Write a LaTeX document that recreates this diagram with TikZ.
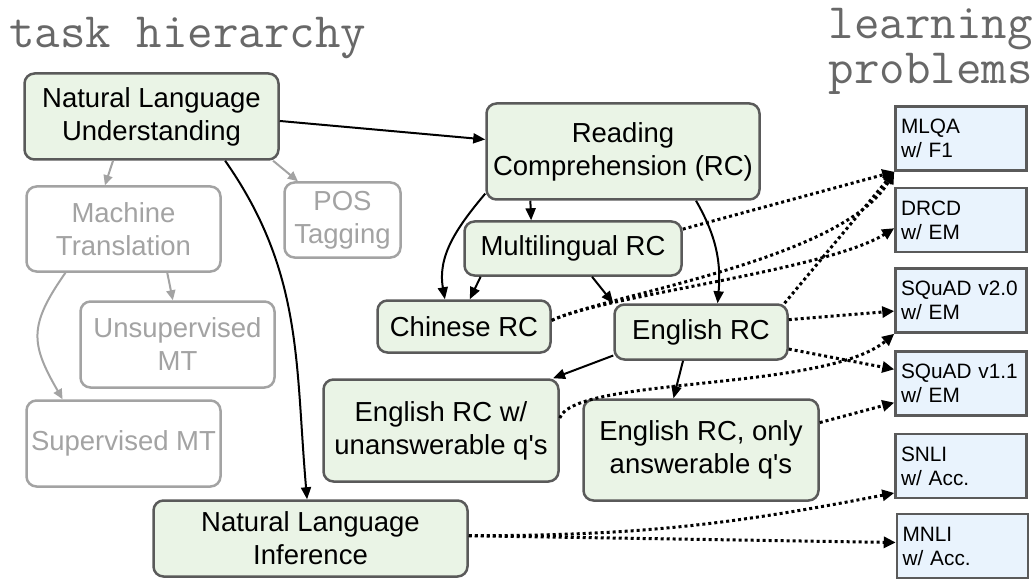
\documentclass[tikz,border=0pt]{standalone}
\usepackage{fontspec}
\setmainfont{Liberation Sans}
\usetikzlibrary{arrows.meta}
\definecolor{taskfill}{HTML}{EAF4E6}
\definecolor{probfill}{HTML}{E9F3FD}
\definecolor{edgegray}{HTML}{5A5A5A}
\definecolor{fadegray}{HTML}{A3A3A3}
\definecolor{titlegray}{HTML}{686868}
\tikzset{
  task/.style={draw=edgegray, line width=2.5pt, rounded corners=10pt, fill=taskfill, align=center, inner sep=4pt, font=\fontsize{27.5}{33}\selectfont},
  faded/.style={draw=fadegray, line width=2.5pt, rounded corners=10pt, fill=white, text=fadegray, align=center, inner sep=4pt, font=\fontsize{27.5}{33}\selectfont},
  prob/.style={draw=edgegray, line width=2.5pt, fill=probfill, align=left, text width=120pt, inner xsep=5.5pt, minimum height=64pt, font=\fontsize{20.8}{24}\selectfont},
  ttl/.style={text=titlegray, inner sep=0pt, font=\ttfamily\addfontfeatures{FakeBold=1.2}\fontsize{49.5}{43}\selectfont},
  flow/.style={-{Triangle[length=12pt,width=10pt]}, line width=2pt},
  sub/.style={-{Triangle[length=10pt,width=9pt]}, line width=2pt, draw=fadegray},
  link/.style={-{Triangle[length=12pt,width=11pt]}, line width=3pt, dash pattern=on 3pt off 3pt},
}

\begin{document}
\begin{tikzpicture}[x=1pt, y=-1pt]
\useasboundingbox (0,0) rectangle (1036,580);
% titles
\node[ttl, anchor=base west] (thier) at (9,48) {task hierarchy};
\node[ttl, anchor=base east] (lprob1) at (1033,39) {learning};
\node[ttl, anchor=base east] (lprob2) at (1033,84) {problems};
% task hierarchy
\node[task, minimum width=254pt, minimum height=86pt] (nlu) at (151.5,116.5) {Natural Language\\Understanding};
\node[faded, minimum width=194pt, minimum height=85pt] (mt) at (123.5,229) {Machine\\Translation};
\node[faded, minimum width=116pt, minimum height=75pt] (pos) at (342.5,220) {POS\\Tagging};
\node[faded, minimum width=194pt, minimum height=86pt] (umt) at (177.5,344.5) {Unsupervised\\MT};
\node[faded, minimum width=194pt, minimum height=86pt] (smt) at (123.5,443.5) {Supervised MT};
\node[task, minimum width=273pt, minimum height=96pt] (rc) at (623,151.5) {Reading\\Comprehension (RC)};
\node[task, minimum width=217pt, minimum height=54pt] (mrc) at (573,248.5) {Multilingual RC};
\node[task, minimum width=173pt, minimum height=52pt] (zhrc) at (464,326.5) {Chinese RC};
\node[task, minimum width=173pt, minimum height=55pt] (enrc) at (701,332) {English RC};
\node[task, minimum width=235pt, minimum height=102pt] (unans) at (441,430.5) {English RC w/\\unanswerable q\textquotesingle s};
\node[task, minimum width=235pt, minimum height=101pt] (ans) at (701,450) {English RC, only\\answerable q\textquotesingle s};
\node[task, minimum width=314pt, minimum height=76pt] (nli) at (310.5,538.5) {Natural Language\\Inference};
% learning problems
\node[prob] (mlqa) at (961,138.5) {MLQA\\w/ F1};
\node[prob] (drcd) at (961,220) {DRCD\\w/ EM};
\node[prob] (sq2) at (961,300.5) {SQuAD v2.0\\w/ EM};
\node[prob] (sq1) at (961,383.5) {SQuAD v1.1\\w/ EM};
\node[prob] (snli) at (961,466) {SNLI\\w/ Acc.};
\node[prob] (mnli) at (962.5,546) {MNLI\\w/ Acc.};
% hierarchy edges
\draw[flow] (nlu.-2) -- (rc.175);
\draw[flow] (nlu.-31) to[out=-55,in=95] (nli.95);
\draw[flow] (rc.208) -- (mrc.146);
\draw[flow] (rc.197) to[out=-130,in=100] (zhrc.125);
\draw[flow] (rc.-34) to[out=-60,in=85] (enrc.60);
\draw[flow] (mrc.197) -- (zhrc.78);
\draw[flow] (mrc.-56) -- (enrc.north west);
\draw[flow] (enrc.195) -- (unans.25);
\draw[flow] (enrc.-122) -- (ans.118);
\draw[sub] (nlu.229) -- (mt.113);
\draw[sub] (nlu.-20) -- (pos.139);
\draw[sub] (mt.-45) -- (umt.96);
\draw[sub] (mt.217) to[out=-125,in=120,looseness=1.3] (smt.144);
% problem links
\draw[link] (mrc.10) -- (mlqa.south west);
\draw[link] (zhrc.4) to[out=25,in=-148,out looseness=0.43,in looseness=0.58] (drcd.187);
\draw[link] (zhrc.4) to[out=25,in=-120,out looseness=0.42,in looseness=0.7] (mlqa.south west);
\draw[link] (enrc.19) -- (mlqa.south west);
\draw[link] (enrc.8) -- (sq2.189);
\draw[link] (enrc.-11) -- (sq1.168);
\draw[link] (unans.6) to[out=70,in=-140,out looseness=0.33,in looseness=0.67] (sq2.south west);
\draw[link] (ans.13) -- (sq1.196);
\draw[link] (nli.1) to[out=0,in=-169] (snli.202);
\draw[link] (nli.1) -- (mnli.177);
\end{tikzpicture}
\end{document}
